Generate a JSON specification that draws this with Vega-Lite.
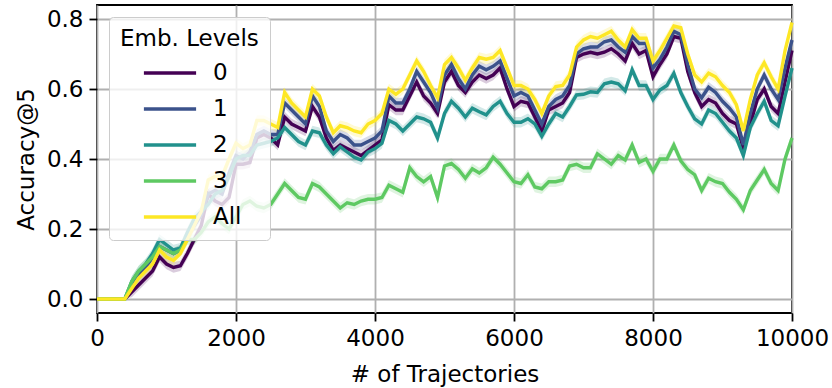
{
"$schema": "https://vega.github.io/schema/vega-lite/v6.json",
"width": 695, "height": 308,
"autosize": {"type": "none"},
"padding": {"left": 97, "top": 5, "right": 40, "bottom": 75},
"config": {
  "font": "DejaVu Sans",
  "view": {"stroke": "black", "strokeWidth": 1.8},
  "axis": {"grid": true, "gridColor": "#b0b0b0", "gridWidth": 1.8, "domain": false, "tickColor": "black", "tickWidth": 1.8, "tickSize": 8, "labelFontSize": 23, "labelColor": "black", "titleFontSize": 23, "titleFontWeight": "normal", "titleColor": "black", "labelPadding": 6, "labelFont": "DejaVu Sans", "titleFont": "DejaVu Sans"}
},
"datasets": {
"d": [
{"t":0,"lv":"0","acc":0,"err":0},{"t":100,"lv":"0","acc":0,"err":0},{"t":200,"lv":"0","acc":0,"err":0},{"t":300,"lv":"0","acc":0,"err":0},{"t":400,"lv":"0","acc":0,"err":0},
{"t":500,"lv":"0","acc":0.02,"err":0.015},{"t":600,"lv":"0","acc":0.04,"err":0.015},{"t":700,"lv":"0","acc":0.06,"err":0.015},{"t":800,"lv":"0","acc":0.08,"err":0.015},{"t":900,"lv":"0","acc":0.12,"err":0.015},
{"t":1000,"lv":"0","acc":0.10,"err":0.015},{"t":1100,"lv":"0","acc":0.09,"err":0.015},{"t":1200,"lv":"0","acc":0.095,"err":0.015},{"t":1300,"lv":"0","acc":0.13,"err":0.015},{"t":1400,"lv":"0","acc":0.17,"err":0.015},
{"t":1500,"lv":"0","acc":0.21,"err":0.015},{"t":1600,"lv":"0","acc":0.30,"err":0.015},{"t":1700,"lv":"0","acc":0.28,"err":0.015},{"t":1800,"lv":"0","acc":0.27,"err":0.015},{"t":1900,"lv":"0","acc":0.29,"err":0.015},
{"t":2000,"lv":"0","acc":0.385,"err":0.015},{"t":2100,"lv":"0","acc":0.385,"err":0.015},{"t":2200,"lv":"0","acc":0.39,"err":0.015},{"t":2300,"lv":"0","acc":0.46,"err":0.015},{"t":2400,"lv":"0","acc":0.47,"err":0.015},
{"t":2500,"lv":"0","acc":0.46,"err":0.015},{"t":2600,"lv":"0","acc":0.44,"err":0.015},{"t":2700,"lv":"0","acc":0.52,"err":0.015},{"t":2800,"lv":"0","acc":0.50,"err":0.015},{"t":2900,"lv":"0","acc":0.49,"err":0.015},
{"t":3000,"lv":"0","acc":0.48,"err":0.015},{"t":3100,"lv":"0","acc":0.55,"err":0.015},{"t":3200,"lv":"0","acc":0.52,"err":0.015},{"t":3300,"lv":"0","acc":0.46,"err":0.015},{"t":3400,"lv":"0","acc":0.425,"err":0.015},
{"t":3500,"lv":"0","acc":0.44,"err":0.015},{"t":3600,"lv":"0","acc":0.43,"err":0.015},{"t":3700,"lv":"0","acc":0.42,"err":0.015},{"t":3800,"lv":"0","acc":0.41,"err":0.015},{"t":3900,"lv":"0","acc":0.425,"err":0.015},
{"t":4000,"lv":"0","acc":0.44,"err":0.015},{"t":4100,"lv":"0","acc":0.455,"err":0.015},{"t":4200,"lv":"0","acc":0.555,"err":0.015},{"t":4300,"lv":"0","acc":0.54,"err":0.015},{"t":4400,"lv":"0","acc":0.54,"err":0.015},
{"t":4500,"lv":"0","acc":0.58,"err":0.015},{"t":4600,"lv":"0","acc":0.62,"err":0.015},{"t":4700,"lv":"0","acc":0.58,"err":0.015},{"t":4800,"lv":"0","acc":0.56,"err":0.015},{"t":4900,"lv":"0","acc":0.53,"err":0.015},
{"t":5000,"lv":"0","acc":0.62,"err":0.015},{"t":5100,"lv":"0","acc":0.65,"err":0.015},{"t":5200,"lv":"0","acc":0.61,"err":0.015},{"t":5300,"lv":"0","acc":0.59,"err":0.015},{"t":5400,"lv":"0","acc":0.62,"err":0.015},
{"t":5500,"lv":"0","acc":0.64,"err":0.015},{"t":5600,"lv":"0","acc":0.63,"err":0.015},{"t":5700,"lv":"0","acc":0.64,"err":0.015},{"t":5800,"lv":"0","acc":0.66,"err":0.015},{"t":5900,"lv":"0","acc":0.60,"err":0.015},
{"t":6000,"lv":"0","acc":0.55,"err":0.015},{"t":6100,"lv":"0","acc":0.565,"err":0.015},{"t":6200,"lv":"0","acc":0.56,"err":0.015},{"t":6300,"lv":"0","acc":0.52,"err":0.015},{"t":6400,"lv":"0","acc":0.48,"err":0.015},
{"t":6500,"lv":"0","acc":0.54,"err":0.015},{"t":6600,"lv":"0","acc":0.55,"err":0.015},{"t":6700,"lv":"0","acc":0.56,"err":0.015},{"t":6800,"lv":"0","acc":0.59,"err":0.015},{"t":6900,"lv":"0","acc":0.69,"err":0.015},
{"t":7000,"lv":"0","acc":0.70,"err":0.015},{"t":7100,"lv":"0","acc":0.705,"err":0.015},{"t":7200,"lv":"0","acc":0.70,"err":0.015},{"t":7300,"lv":"0","acc":0.705,"err":0.015},{"t":7400,"lv":"0","acc":0.715,"err":0.015},
{"t":7500,"lv":"0","acc":0.70,"err":0.015},{"t":7600,"lv":"0","acc":0.68,"err":0.015},{"t":7700,"lv":"0","acc":0.73,"err":0.015},{"t":7800,"lv":"0","acc":0.70,"err":0.015},{"t":7900,"lv":"0","acc":0.71,"err":0.015},
{"t":8000,"lv":"0","acc":0.635,"err":0.015},{"t":8100,"lv":"0","acc":0.67,"err":0.015},{"t":8200,"lv":"0","acc":0.70,"err":0.015},{"t":8300,"lv":"0","acc":0.75,"err":0.015},{"t":8400,"lv":"0","acc":0.745,"err":0.015},
{"t":8500,"lv":"0","acc":0.65,"err":0.015},{"t":8600,"lv":"0","acc":0.59,"err":0.015},{"t":8700,"lv":"0","acc":0.55,"err":0.015},{"t":8800,"lv":"0","acc":0.57,"err":0.015},{"t":8900,"lv":"0","acc":0.56,"err":0.015},
{"t":9000,"lv":"0","acc":0.53,"err":0.015},{"t":9100,"lv":"0","acc":0.51,"err":0.015},{"t":9200,"lv":"0","acc":0.50,"err":0.015},{"t":9300,"lv":"0","acc":0.43,"err":0.015},{"t":9400,"lv":"0","acc":0.50,"err":0.015},
{"t":9500,"lv":"0","acc":0.57,"err":0.015},{"t":9600,"lv":"0","acc":0.60,"err":0.015},{"t":9700,"lv":"0","acc":0.55,"err":0.015},{"t":9800,"lv":"0","acc":0.53,"err":0.015},{"t":9900,"lv":"0","acc":0.62,"err":0.015},
{"t":10000,"lv":"0","acc":0.71,"err":0.015},

{"t":0,"lv":"1","acc":0,"err":0},{"t":100,"lv":"1","acc":0,"err":0},{"t":200,"lv":"1","acc":0,"err":0},{"t":300,"lv":"1","acc":0,"err":0},{"t":400,"lv":"1","acc":0,"err":0},
{"t":500,"lv":"1","acc":0.04,"err":0.015},{"t":600,"lv":"1","acc":0.07,"err":0.015},{"t":700,"lv":"1","acc":0.09,"err":0.015},{"t":800,"lv":"1","acc":0.12,"err":0.015},{"t":900,"lv":"1","acc":0.15,"err":0.015},
{"t":1000,"lv":"1","acc":0.14,"err":0.015},{"t":1100,"lv":"1","acc":0.13,"err":0.015},{"t":1200,"lv":"1","acc":0.14,"err":0.015},{"t":1300,"lv":"1","acc":0.18,"err":0.015},{"t":1400,"lv":"1","acc":0.21,"err":0.015},
{"t":1500,"lv":"1","acc":0.24,"err":0.015},{"t":1600,"lv":"1","acc":0.30,"err":0.015},{"t":1700,"lv":"1","acc":0.31,"err":0.015},{"t":1800,"lv":"1","acc":0.30,"err":0.015},{"t":1900,"lv":"1","acc":0.36,"err":0.015},
{"t":2000,"lv":"1","acc":0.41,"err":0.015},{"t":2100,"lv":"1","acc":0.40,"err":0.015},{"t":2200,"lv":"1","acc":0.42,"err":0.015},{"t":2300,"lv":"1","acc":0.47,"err":0.015},{"t":2400,"lv":"1","acc":0.48,"err":0.015},
{"t":2500,"lv":"1","acc":0.47,"err":0.015},{"t":2600,"lv":"1","acc":0.47,"err":0.015},{"t":2700,"lv":"1","acc":0.56,"err":0.015},{"t":2800,"lv":"1","acc":0.54,"err":0.015},{"t":2900,"lv":"1","acc":0.52,"err":0.015},
{"t":3000,"lv":"1","acc":0.50,"err":0.015},{"t":3100,"lv":"1","acc":0.58,"err":0.015},{"t":3200,"lv":"1","acc":0.55,"err":0.015},{"t":3300,"lv":"1","acc":0.48,"err":0.015},{"t":3400,"lv":"1","acc":0.45,"err":0.015},
{"t":3500,"lv":"1","acc":0.47,"err":0.015},{"t":3600,"lv":"1","acc":0.46,"err":0.015},{"t":3700,"lv":"1","acc":0.44,"err":0.015},{"t":3800,"lv":"1","acc":0.44,"err":0.015},{"t":3900,"lv":"1","acc":0.45,"err":0.015},
{"t":4000,"lv":"1","acc":0.46,"err":0.015},{"t":4100,"lv":"1","acc":0.48,"err":0.015},{"t":4200,"lv":"1","acc":0.58,"err":0.015},{"t":4300,"lv":"1","acc":0.56,"err":0.015},{"t":4400,"lv":"1","acc":0.56,"err":0.015},
{"t":4500,"lv":"1","acc":0.60,"err":0.015},{"t":4600,"lv":"1","acc":0.65,"err":0.015},{"t":4700,"lv":"1","acc":0.62,"err":0.015},{"t":4800,"lv":"1","acc":0.59,"err":0.015},{"t":4900,"lv":"1","acc":0.545,"err":0.015},
{"t":5000,"lv":"1","acc":0.64,"err":0.015},{"t":5100,"lv":"1","acc":0.67,"err":0.015},{"t":5200,"lv":"1","acc":0.63,"err":0.015},{"t":5300,"lv":"1","acc":0.60,"err":0.015},{"t":5400,"lv":"1","acc":0.64,"err":0.015},
{"t":5500,"lv":"1","acc":0.665,"err":0.015},{"t":5600,"lv":"1","acc":0.655,"err":0.015},{"t":5700,"lv":"1","acc":0.665,"err":0.015},{"t":5800,"lv":"1","acc":0.68,"err":0.015},{"t":5900,"lv":"1","acc":0.63,"err":0.015},
{"t":6000,"lv":"1","acc":0.58,"err":0.015},{"t":6100,"lv":"1","acc":0.59,"err":0.015},{"t":6200,"lv":"1","acc":0.58,"err":0.015},{"t":6300,"lv":"1","acc":0.54,"err":0.015},{"t":6400,"lv":"1","acc":0.50,"err":0.015},
{"t":6500,"lv":"1","acc":0.55,"err":0.015},{"t":6600,"lv":"1","acc":0.57,"err":0.015},{"t":6700,"lv":"1","acc":0.58,"err":0.015},{"t":6800,"lv":"1","acc":0.61,"err":0.015},{"t":6900,"lv":"1","acc":0.70,"err":0.015},
{"t":7000,"lv":"1","acc":0.715,"err":0.015},{"t":7100,"lv":"1","acc":0.72,"err":0.015},{"t":7200,"lv":"1","acc":0.72,"err":0.015},{"t":7300,"lv":"1","acc":0.735,"err":0.015},{"t":7400,"lv":"1","acc":0.74,"err":0.015},
{"t":7500,"lv":"1","acc":0.72,"err":0.015},{"t":7600,"lv":"1","acc":0.705,"err":0.015},{"t":7700,"lv":"1","acc":0.75,"err":0.015},{"t":7800,"lv":"1","acc":0.73,"err":0.015},{"t":7900,"lv":"1","acc":0.73,"err":0.015},
{"t":8000,"lv":"1","acc":0.66,"err":0.015},{"t":8100,"lv":"1","acc":0.685,"err":0.015},{"t":8200,"lv":"1","acc":0.72,"err":0.015},{"t":8300,"lv":"1","acc":0.765,"err":0.015},{"t":8400,"lv":"1","acc":0.755,"err":0.015},
{"t":8500,"lv":"1","acc":0.67,"err":0.015},{"t":8600,"lv":"1","acc":0.60,"err":0.015},{"t":8700,"lv":"1","acc":0.575,"err":0.015},{"t":8800,"lv":"1","acc":0.605,"err":0.015},{"t":8900,"lv":"1","acc":0.59,"err":0.015},
{"t":9000,"lv":"1","acc":0.565,"err":0.015},{"t":9100,"lv":"1","acc":0.545,"err":0.015},{"t":9200,"lv":"1","acc":0.52,"err":0.015},{"t":9300,"lv":"1","acc":0.44,"err":0.015},{"t":9400,"lv":"1","acc":0.53,"err":0.015},
{"t":9500,"lv":"1","acc":0.60,"err":0.015},{"t":9600,"lv":"1","acc":0.64,"err":0.015},{"t":9700,"lv":"1","acc":0.60,"err":0.015},{"t":9800,"lv":"1","acc":0.57,"err":0.015},{"t":9900,"lv":"1","acc":0.66,"err":0.015},
{"t":10000,"lv":"1","acc":0.74,"err":0.015},

{"t":0,"lv":"2","acc":0,"err":0},{"t":100,"lv":"2","acc":0,"err":0},{"t":200,"lv":"2","acc":0,"err":0},{"t":300,"lv":"2","acc":0,"err":0},{"t":400,"lv":"2","acc":0,"err":0},
{"t":500,"lv":"2","acc":0.05,"err":0.015},{"t":600,"lv":"2","acc":0.08,"err":0.015},{"t":700,"lv":"2","acc":0.10,"err":0.015},{"t":800,"lv":"2","acc":0.13,"err":0.015},{"t":900,"lv":"2","acc":0.17,"err":0.015},
{"t":1000,"lv":"2","acc":0.155,"err":0.015},{"t":1100,"lv":"2","acc":0.14,"err":0.015},{"t":1200,"lv":"2","acc":0.145,"err":0.015},{"t":1300,"lv":"2","acc":0.19,"err":0.015},{"t":1400,"lv":"2","acc":0.23,"err":0.015},
{"t":1500,"lv":"2","acc":0.25,"err":0.015},{"t":1600,"lv":"2","acc":0.27,"err":0.015},{"t":1700,"lv":"2","acc":0.30,"err":0.015},{"t":1800,"lv":"2","acc":0.31,"err":0.015},{"t":1900,"lv":"2","acc":0.35,"err":0.015},
{"t":2000,"lv":"2","acc":0.40,"err":0.015},{"t":2100,"lv":"2","acc":0.41,"err":0.015},{"t":2200,"lv":"2","acc":0.41,"err":0.015},{"t":2300,"lv":"2","acc":0.44,"err":0.015},{"t":2400,"lv":"2","acc":0.445,"err":0.015},
{"t":2500,"lv":"2","acc":0.45,"err":0.015},{"t":2600,"lv":"2","acc":0.46,"err":0.015},{"t":2700,"lv":"2","acc":0.49,"err":0.015},{"t":2800,"lv":"2","acc":0.47,"err":0.015},{"t":2900,"lv":"2","acc":0.45,"err":0.015},
{"t":3000,"lv":"2","acc":0.44,"err":0.015},{"t":3100,"lv":"2","acc":0.48,"err":0.015},{"t":3200,"lv":"2","acc":0.475,"err":0.015},{"t":3300,"lv":"2","acc":0.44,"err":0.015},{"t":3400,"lv":"2","acc":0.415,"err":0.015},
{"t":3500,"lv":"2","acc":0.435,"err":0.015},{"t":3600,"lv":"2","acc":0.42,"err":0.015},{"t":3700,"lv":"2","acc":0.405,"err":0.015},{"t":3800,"lv":"2","acc":0.397,"err":0.015},{"t":3900,"lv":"2","acc":0.42,"err":0.015},
{"t":4000,"lv":"2","acc":0.43,"err":0.015},{"t":4100,"lv":"2","acc":0.445,"err":0.015},{"t":4200,"lv":"2","acc":0.51,"err":0.015},{"t":4300,"lv":"2","acc":0.50,"err":0.015},{"t":4400,"lv":"2","acc":0.48,"err":0.015},
{"t":4500,"lv":"2","acc":0.50,"err":0.015},{"t":4600,"lv":"2","acc":0.52,"err":0.015},{"t":4700,"lv":"2","acc":0.515,"err":0.015},{"t":4800,"lv":"2","acc":0.505,"err":0.015},{"t":4900,"lv":"2","acc":0.46,"err":0.015},
{"t":5000,"lv":"2","acc":0.53,"err":0.015},{"t":5100,"lv":"2","acc":0.565,"err":0.015},{"t":5200,"lv":"2","acc":0.545,"err":0.015},{"t":5300,"lv":"2","acc":0.52,"err":0.015},{"t":5400,"lv":"2","acc":0.545,"err":0.015},
{"t":5500,"lv":"2","acc":0.535,"err":0.015},{"t":5600,"lv":"2","acc":0.526,"err":0.015},{"t":5700,"lv":"2","acc":0.55,"err":0.015},{"t":5800,"lv":"2","acc":0.565,"err":0.015},{"t":5900,"lv":"2","acc":0.53,"err":0.015},
{"t":6000,"lv":"2","acc":0.505,"err":0.015},{"t":6100,"lv":"2","acc":0.505,"err":0.015},{"t":6200,"lv":"2","acc":0.515,"err":0.015},{"t":6300,"lv":"2","acc":0.50,"err":0.015},{"t":6400,"lv":"2","acc":0.465,"err":0.015},
{"t":6500,"lv":"2","acc":0.50,"err":0.015},{"t":6600,"lv":"2","acc":0.53,"err":0.015},{"t":6700,"lv":"2","acc":0.52,"err":0.015},{"t":6800,"lv":"2","acc":0.55,"err":0.015},{"t":6900,"lv":"2","acc":0.583,"err":0.015},
{"t":7000,"lv":"2","acc":0.585,"err":0.015},{"t":7100,"lv":"2","acc":0.592,"err":0.015},{"t":7200,"lv":"2","acc":0.59,"err":0.015},{"t":7300,"lv":"2","acc":0.615,"err":0.015},{"t":7400,"lv":"2","acc":0.62,"err":0.015},
{"t":7500,"lv":"2","acc":0.615,"err":0.015},{"t":7600,"lv":"2","acc":0.595,"err":0.015},{"t":7700,"lv":"2","acc":0.655,"err":0.015},{"t":7800,"lv":"2","acc":0.61,"err":0.015},{"t":7900,"lv":"2","acc":0.61,"err":0.015},
{"t":8000,"lv":"2","acc":0.57,"err":0.015},{"t":8100,"lv":"2","acc":0.597,"err":0.015},{"t":8200,"lv":"2","acc":0.61,"err":0.015},{"t":8300,"lv":"2","acc":0.645,"err":0.015},{"t":8400,"lv":"2","acc":0.59,"err":0.015},
{"t":8500,"lv":"2","acc":0.55,"err":0.015},{"t":8600,"lv":"2","acc":0.515,"err":0.015},{"t":8700,"lv":"2","acc":0.50,"err":0.015},{"t":8800,"lv":"2","acc":0.54,"err":0.015},{"t":8900,"lv":"2","acc":0.53,"err":0.015},
{"t":9000,"lv":"2","acc":0.505,"err":0.015},{"t":9100,"lv":"2","acc":0.48,"err":0.015},{"t":9200,"lv":"2","acc":0.46,"err":0.015},{"t":9300,"lv":"2","acc":0.41,"err":0.015},{"t":9400,"lv":"2","acc":0.49,"err":0.015},
{"t":9500,"lv":"2","acc":0.53,"err":0.015},{"t":9600,"lv":"2","acc":0.565,"err":0.015},{"t":9700,"lv":"2","acc":0.51,"err":0.015},{"t":9800,"lv":"2","acc":0.495,"err":0.015},{"t":9900,"lv":"2","acc":0.58,"err":0.015},
{"t":10000,"lv":"2","acc":0.66,"err":0.015},

{"t":0,"lv":"3","acc":0,"err":0},{"t":100,"lv":"3","acc":0,"err":0},{"t":200,"lv":"3","acc":0,"err":0},{"t":300,"lv":"3","acc":0,"err":0},{"t":400,"lv":"3","acc":0,"err":0},
{"t":500,"lv":"3","acc":0.05,"err":0.015},{"t":600,"lv":"3","acc":0.08,"err":0.015},{"t":700,"lv":"3","acc":0.10,"err":0.015},{"t":800,"lv":"3","acc":0.12,"err":0.015},{"t":900,"lv":"3","acc":0.15,"err":0.015},
{"t":1000,"lv":"3","acc":0.14,"err":0.015},{"t":1100,"lv":"3","acc":0.13,"err":0.015},{"t":1200,"lv":"3","acc":0.14,"err":0.015},{"t":1300,"lv":"3","acc":0.17,"err":0.015},{"t":1400,"lv":"3","acc":0.17,"err":0.015},
{"t":1500,"lv":"3","acc":0.19,"err":0.015},{"t":1600,"lv":"3","acc":0.22,"err":0.015},{"t":1700,"lv":"3","acc":0.235,"err":0.015},{"t":1800,"lv":"3","acc":0.215,"err":0.015},{"t":1900,"lv":"3","acc":0.20,"err":0.015},
{"t":2000,"lv":"3","acc":0.235,"err":0.015},{"t":2100,"lv":"3","acc":0.27,"err":0.015},{"t":2200,"lv":"3","acc":0.28,"err":0.015},{"t":2300,"lv":"3","acc":0.265,"err":0.015},{"t":2400,"lv":"3","acc":0.26,"err":0.015},
{"t":2500,"lv":"3","acc":0.27,"err":0.015},{"t":2600,"lv":"3","acc":0.30,"err":0.015},{"t":2700,"lv":"3","acc":0.33,"err":0.015},{"t":2800,"lv":"3","acc":0.31,"err":0.015},{"t":2900,"lv":"3","acc":0.29,"err":0.015},
{"t":3000,"lv":"3","acc":0.285,"err":0.015},{"t":3100,"lv":"3","acc":0.33,"err":0.015},{"t":3200,"lv":"3","acc":0.32,"err":0.015},{"t":3300,"lv":"3","acc":0.30,"err":0.015},{"t":3400,"lv":"3","acc":0.28,"err":0.015},
{"t":3500,"lv":"3","acc":0.26,"err":0.015},{"t":3600,"lv":"3","acc":0.275,"err":0.015},{"t":3700,"lv":"3","acc":0.27,"err":0.015},{"t":3800,"lv":"3","acc":0.28,"err":0.015},{"t":3900,"lv":"3","acc":0.285,"err":0.015},
{"t":4000,"lv":"3","acc":0.285,"err":0.015},{"t":4100,"lv":"3","acc":0.29,"err":0.015},{"t":4200,"lv":"3","acc":0.325,"err":0.015},{"t":4300,"lv":"3","acc":0.315,"err":0.015},{"t":4400,"lv":"3","acc":0.305,"err":0.015},
{"t":4500,"lv":"3","acc":0.375,"err":0.015},{"t":4600,"lv":"3","acc":0.35,"err":0.015},{"t":4700,"lv":"3","acc":0.335,"err":0.015},{"t":4800,"lv":"3","acc":0.35,"err":0.015},{"t":4900,"lv":"3","acc":0.29,"err":0.015},
{"t":5000,"lv":"3","acc":0.38,"err":0.015},{"t":5100,"lv":"3","acc":0.387,"err":0.015},{"t":5200,"lv":"3","acc":0.37,"err":0.015},{"t":5300,"lv":"3","acc":0.345,"err":0.015},{"t":5400,"lv":"3","acc":0.372,"err":0.015},
{"t":5500,"lv":"3","acc":0.36,"err":0.015},{"t":5600,"lv":"3","acc":0.375,"err":0.015},{"t":5700,"lv":"3","acc":0.405,"err":0.015},{"t":5800,"lv":"3","acc":0.385,"err":0.015},{"t":5900,"lv":"3","acc":0.36,"err":0.015},
{"t":6000,"lv":"3","acc":0.335,"err":0.015},{"t":6100,"lv":"3","acc":0.33,"err":0.015},{"t":6200,"lv":"3","acc":0.355,"err":0.015},{"t":6300,"lv":"3","acc":0.32,"err":0.015},{"t":6400,"lv":"3","acc":0.315,"err":0.015},
{"t":6500,"lv":"3","acc":0.335,"err":0.015},{"t":6600,"lv":"3","acc":0.335,"err":0.015},{"t":6700,"lv":"3","acc":0.34,"err":0.015},{"t":6800,"lv":"3","acc":0.38,"err":0.015},{"t":6900,"lv":"3","acc":0.385,"err":0.015},
{"t":7000,"lv":"3","acc":0.375,"err":0.015},{"t":7100,"lv":"3","acc":0.375,"err":0.015},{"t":7200,"lv":"3","acc":0.415,"err":0.015},{"t":7300,"lv":"3","acc":0.40,"err":0.015},{"t":7400,"lv":"3","acc":0.385,"err":0.015},
{"t":7500,"lv":"3","acc":0.41,"err":0.015},{"t":7600,"lv":"3","acc":0.397,"err":0.015},{"t":7700,"lv":"3","acc":0.44,"err":0.015},{"t":7800,"lv":"3","acc":0.39,"err":0.015},{"t":7900,"lv":"3","acc":0.40,"err":0.015},
{"t":8000,"lv":"3","acc":0.365,"err":0.015},{"t":8100,"lv":"3","acc":0.40,"err":0.015},{"t":8200,"lv":"3","acc":0.40,"err":0.015},{"t":8300,"lv":"3","acc":0.44,"err":0.015},{"t":8400,"lv":"3","acc":0.395,"err":0.015},
{"t":8500,"lv":"3","acc":0.37,"err":0.015},{"t":8600,"lv":"3","acc":0.355,"err":0.015},{"t":8700,"lv":"3","acc":0.31,"err":0.015},{"t":8800,"lv":"3","acc":0.345,"err":0.015},{"t":8900,"lv":"3","acc":0.335,"err":0.015},
{"t":9000,"lv":"3","acc":0.33,"err":0.015},{"t":9100,"lv":"3","acc":0.305,"err":0.015},{"t":9200,"lv":"3","acc":0.285,"err":0.015},{"t":9300,"lv":"3","acc":0.255,"err":0.015},{"t":9400,"lv":"3","acc":0.31,"err":0.015},
{"t":9500,"lv":"3","acc":0.34,"err":0.015},{"t":9600,"lv":"3","acc":0.37,"err":0.015},{"t":9700,"lv":"3","acc":0.33,"err":0.015},{"t":9800,"lv":"3","acc":0.31,"err":0.015},{"t":9900,"lv":"3","acc":0.40,"err":0.015},
{"t":10000,"lv":"3","acc":0.46,"err":0.015},

{"t":0,"lv":"All","acc":0,"err":0},{"t":100,"lv":"All","acc":0,"err":0},{"t":200,"lv":"All","acc":0,"err":0},{"t":300,"lv":"All","acc":0,"err":0},{"t":400,"lv":"All","acc":0,"err":0},
{"t":500,"lv":"All","acc":0.03,"err":0.015},{"t":600,"lv":"All","acc":0.06,"err":0.015},{"t":700,"lv":"All","acc":0.08,"err":0.015},{"t":800,"lv":"All","acc":0.10,"err":0.015},{"t":900,"lv":"All","acc":0.14,"err":0.015},
{"t":1000,"lv":"All","acc":0.12,"err":0.015},{"t":1100,"lv":"All","acc":0.11,"err":0.015},{"t":1200,"lv":"All","acc":0.13,"err":0.015},{"t":1300,"lv":"All","acc":0.17,"err":0.015},{"t":1400,"lv":"All","acc":0.21,"err":0.015},
{"t":1500,"lv":"All","acc":0.25,"err":0.015},{"t":1600,"lv":"All","acc":0.34,"err":0.015},{"t":1700,"lv":"All","acc":0.35,"err":0.015},{"t":1800,"lv":"All","acc":0.35,"err":0.015},{"t":1900,"lv":"All","acc":0.40,"err":0.015},
{"t":2000,"lv":"All","acc":0.445,"err":0.015},{"t":2100,"lv":"All","acc":0.43,"err":0.015},{"t":2200,"lv":"All","acc":0.44,"err":0.015},{"t":2300,"lv":"All","acc":0.51,"err":0.015},{"t":2400,"lv":"All","acc":0.51,"err":0.015},
{"t":2500,"lv":"All","acc":0.50,"err":0.015},{"t":2600,"lv":"All","acc":0.49,"err":0.015},{"t":2700,"lv":"All","acc":0.59,"err":0.015},{"t":2800,"lv":"All","acc":0.56,"err":0.015},{"t":2900,"lv":"All","acc":0.54,"err":0.015},
{"t":3000,"lv":"All","acc":0.52,"err":0.015},{"t":3100,"lv":"All","acc":0.60,"err":0.015},{"t":3200,"lv":"All","acc":0.58,"err":0.015},{"t":3300,"lv":"All","acc":0.52,"err":0.015},{"t":3400,"lv":"All","acc":0.475,"err":0.015},
{"t":3500,"lv":"All","acc":0.495,"err":0.015},{"t":3600,"lv":"All","acc":0.49,"err":0.015},{"t":3700,"lv":"All","acc":0.48,"err":0.015},{"t":3800,"lv":"All","acc":0.475,"err":0.015},{"t":3900,"lv":"All","acc":0.50,"err":0.015},
{"t":4000,"lv":"All","acc":0.51,"err":0.015},{"t":4100,"lv":"All","acc":0.53,"err":0.015},{"t":4200,"lv":"All","acc":0.60,"err":0.015},{"t":4300,"lv":"All","acc":0.585,"err":0.015},{"t":4400,"lv":"All","acc":0.60,"err":0.015},
{"t":4500,"lv":"All","acc":0.64,"err":0.015},{"t":4600,"lv":"All","acc":0.68,"err":0.015},{"t":4700,"lv":"All","acc":0.65,"err":0.015},{"t":4800,"lv":"All","acc":0.61,"err":0.015},{"t":4900,"lv":"All","acc":0.575,"err":0.015},
{"t":5000,"lv":"All","acc":0.67,"err":0.015},{"t":5100,"lv":"All","acc":0.69,"err":0.015},{"t":5200,"lv":"All","acc":0.66,"err":0.015},{"t":5300,"lv":"All","acc":0.625,"err":0.015},{"t":5400,"lv":"All","acc":0.66,"err":0.015},
{"t":5500,"lv":"All","acc":0.69,"err":0.015},{"t":5600,"lv":"All","acc":0.685,"err":0.015},{"t":5700,"lv":"All","acc":0.69,"err":0.015},{"t":5800,"lv":"All","acc":0.71,"err":0.015},{"t":5900,"lv":"All","acc":0.66,"err":0.015},
{"t":6000,"lv":"All","acc":0.61,"err":0.015},{"t":6100,"lv":"All","acc":0.61,"err":0.015},{"t":6200,"lv":"All","acc":0.60,"err":0.015},{"t":6300,"lv":"All","acc":0.57,"err":0.015},{"t":6400,"lv":"All","acc":0.53,"err":0.015},
{"t":6500,"lv":"All","acc":0.58,"err":0.015},{"t":6600,"lv":"All","acc":0.607,"err":0.015},{"t":6700,"lv":"All","acc":0.61,"err":0.015},{"t":6800,"lv":"All","acc":0.64,"err":0.015},{"t":6900,"lv":"All","acc":0.72,"err":0.015},
{"t":7000,"lv":"All","acc":0.74,"err":0.015},{"t":7100,"lv":"All","acc":0.75,"err":0.015},{"t":7200,"lv":"All","acc":0.745,"err":0.015},{"t":7300,"lv":"All","acc":0.755,"err":0.015},{"t":7400,"lv":"All","acc":0.765,"err":0.015},
{"t":7500,"lv":"All","acc":0.74,"err":0.015},{"t":7600,"lv":"All","acc":0.72,"err":0.015},{"t":7700,"lv":"All","acc":0.77,"err":0.015},{"t":7800,"lv":"All","acc":0.745,"err":0.015},{"t":7900,"lv":"All","acc":0.745,"err":0.015},
{"t":8000,"lv":"All","acc":0.68,"err":0.015},{"t":8100,"lv":"All","acc":0.71,"err":0.015},{"t":8200,"lv":"All","acc":0.745,"err":0.015},{"t":8300,"lv":"All","acc":0.78,"err":0.015},{"t":8400,"lv":"All","acc":0.775,"err":0.015},
{"t":8500,"lv":"All","acc":0.70,"err":0.015},{"t":8600,"lv":"All","acc":0.64,"err":0.015},{"t":8700,"lv":"All","acc":0.62,"err":0.015},{"t":8800,"lv":"All","acc":0.645,"err":0.015},{"t":8900,"lv":"All","acc":0.635,"err":0.015},
{"t":9000,"lv":"All","acc":0.61,"err":0.015},{"t":9100,"lv":"All","acc":0.59,"err":0.015},{"t":9200,"lv":"All","acc":0.555,"err":0.015},{"t":9300,"lv":"All","acc":0.48,"err":0.015},{"t":9400,"lv":"All","acc":0.57,"err":0.015},
{"t":9500,"lv":"All","acc":0.64,"err":0.015},{"t":9600,"lv":"All","acc":0.675,"err":0.015},{"t":9700,"lv":"All","acc":0.635,"err":0.015},{"t":9800,"lv":"All","acc":0.60,"err":0.015},{"t":9900,"lv":"All","acc":0.71,"err":0.015},
{"t":10000,"lv":"All","acc":0.79,"err":0.015}
]
},
"data": {"name": "d"},
"encoding": {
  "x": {"field": "t", "type": "quantitative", "title": "# of Trajectories",
        "scale": {"domain": [0, 10000], "nice": false, "zero": false},
        "axis": {"values": [0, 2000, 4000, 6000, 8000, 10000], "format": "d", "labelFlush": false, "titlePadding": 13}},
  "y": {"field": "acc", "type": "quantitative", "title": "Accuracy@5",
        "scale": {"domain": [-0.04, 0.84], "nice": false, "zero": false},
        "axis": {"values": [0, 0.2, 0.4, 0.6, 0.8], "format": ".1f", "titlePadding": 8}},
  "color": {"field": "lv", "type": "nominal",
    "scale": {"domain": ["0", "1", "2", "3", "All"], "range": ["#440154", "#3b528b", "#21918c", "#5ec962", "#fde725"]},
    "legend": {"title": "Emb. Levels", "orient": "none", "legendX": 12, "legendY": 12,
      "symbolType": "M-1.45,0H1.45", "symbolSize": 1296, "symbolStrokeWidth": 3.5, "symbolOffset": 30, "symbolOpacity": 1,
      "labelOffset": 23, "fillColor": "rgba(255,255,255,0.8)", "strokeColor": "#cccccc", "cornerRadius": 4, "padding": 11,
      "titleFontSize": 23, "labelFontSize": 23, "titleFontWeight": "normal", "titleColor": "black", "labelColor": "black",
      "rowPadding": 4, "titlePadding": 2, "titleFont": "DejaVu Sans", "labelFont": "DejaVu Sans"}}
},
"layer": [
  {"mark": {"type": "errorband", "opacity": 0.2}, "encoding": {"yError": {"field": "err"}}},
  {"mark": {"type": "line", "strokeWidth": 3.4}}
]
}
